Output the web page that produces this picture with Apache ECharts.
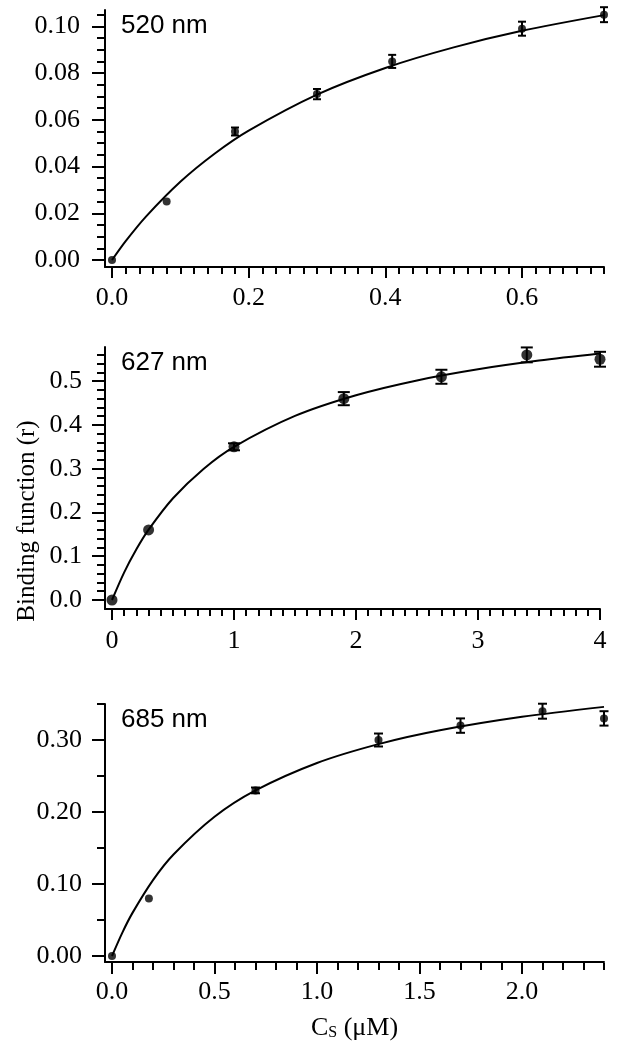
<!DOCTYPE html>
<html>
<head>
<meta charset="utf-8">
<script src="https://cdn.jsdelivr.net/npm/echarts@6/dist/echarts.min.js"></script>
<style>
    html, body { margin: 0; padding: 0; background: #fff; }
    #chart { width: 632px; height: 1050px; }
</style>
</head>
<body>
<div id="chart"></div>
<script>
// 520 nm
var cs520 = [0, 0.08, 0.18, 0.30, 0.41, 0.60, 0.72];
var r520 = [0, 0.025, 0.055, 0.071, 0.085, 0.099, 0.105];
var err520 = [0, 0, 0.0017, 0.0022, 0.0028, 0.003, 0.0032];
var fitCs520 = [0, 0.02, 0.05, 0.1, 0.15, 0.2, 0.3, 0.4, 0.5, 0.6, 0.72];
var fitR520 = [0, 0.0081, 0.0187, 0.0335, 0.0455, 0.0554, 0.0708, 0.0822, 0.0910, 0.0981, 0.1048];

// 627 nm
var cs627 = [0, 0.3, 1.0, 1.9, 2.7, 3.4, 4.0];
var r627 = [0, 0.16, 0.35, 0.46, 0.51, 0.56, 0.55];
var err627 = [0, 0, 0.008, 0.015, 0.016, 0.017, 0.017];
var fitCs627 = [0, 0.1, 0.2, 0.3, 0.5, 0.75, 1.0, 1.5, 2.0, 2.5, 3.0, 3.5, 4.0];
var fitR627 = [0, 0.0632, 0.1159, 0.1607, 0.2325, 0.2995, 0.35, 0.4206, 0.4679, 0.5017, 0.5271, 0.5469, 0.563];

// 685 nm
var cs685 = [0, 0.18, 0.7, 1.3, 1.7, 2.1, 2.4];
var r685 = [0, 0.08, 0.23, 0.30, 0.32, 0.34, 0.33];
var err685 = [0, 0, 0.004, 0.009, 0.01, 0.0104, 0.01];
var fitCs685 = [0, 0.05, 0.1, 0.2, 0.3, 0.5, 0.7, 1.0, 1.3, 1.6, 2.0, 2.4];
var fitR685 = [0, 0.0322, 0.0599, 0.1054, 0.141, 0.1934, 0.23, 0.2681, 0.2943, 0.3135, 0.3322, 0.346];

// tick labels
var xTicks520 = [0, 0.2, 0.4, 0.6];
var yTicks520 = [0, 0.02, 0.04, 0.06, 0.08, 0.10];
var xTicks627 = [0, 1, 2, 3, 4];
var yTicks627 = [0, 0.1, 0.2, 0.3, 0.4, 0.5];
var xTicks685 = [0, 0.5, 1.0, 1.5, 2.0];
var yTicks685 = [0, 0.10, 0.20, 0.30];

var SERIF = '"Liberation Serif", "Times New Roman", serif';
var SANS = '"Liberation Sans", Arial, sans-serif';

var panels = [
    {
        name: '520 nm', cs: cs520, r: r520, err: err520, fitCs: fitCs520, fitR: fitR520,
        xTicks: xTicks520, yTicks: yTicks520, xDec: 1, yDec: 2, xMinor: 0.02, yMinor: 0.005,
        xMax: 0.72, yMax: 0.107, top: 10, height: 250, right: 28, xOff: 7, yOff: 7,
        xMargin: 18, yMargin: 25, dot: 8, cap: 4
    },
    {
        name: '627 nm', cs: cs627, r: r627, err: err627, fitCs: fitCs627, fitR: fitR627,
        xTicks: xTicks627, yTicks: yTicks627, xDec: 0, yDec: 1, xMinor: 0.1, yMinor: 0.02,
        xMax: 4, yMax: 0.578, top: 347, height: 253, right: 32, xOff: 9, yOff: 7,
        xMargin: 19, yMargin: 23, dot: 11, cap: 6
    },
    {
        name: '685 nm', cs: cs685, r: r685, err: err685, fitCs: fitCs685, fitR: fitR685,
        xTicks: xTicks685, yTicks: yTicks685, xDec: 1, yDec: 2, xMinor: 0.1, yMinor: 0.05,
        xMax: 2.4, yMax: 0.35, top: 704, height: 252, right: 28, xOff: 7, yOff: 7,
        xMargin: 16, yMargin: 23, dot: 8, cap: 4.5
    }
];

var grids = [], xAxes = [], yAxes = [], series = [], graphics = [];

function steps(max, step) {
    var out = [];
    for (var i = 0; i * step <= max + 1e-9; i++) out.push(+(i * step).toFixed(6));
    return out;
}

function pairs(xs, ys) {
    return xs.map(function (x, i) { return [x, ys[i]]; });
}

panels.forEach(function (p, i) {
    var frameLeft = 105, dataLeft = 112;

    // 坐标框(只画轴线)
    grids.push({ left: frameLeft, right: p.right, top: p.top, height: p.height + p.xOff });
    // 数据区
    grids.push({ left: dataLeft, right: p.right, top: p.top, height: p.height });

    var frameAxis = {
        type: 'value', min: 0, max: 1,
        axisLine: { show: true, onZero: false, lineStyle: { color: '#000', width: 2 } },
        axisTick: { show: false }, axisLabel: { show: false }, splitLine: { show: false }
    };
    var fx = Object.assign({ gridIndex: 2 * i, position: 'bottom' }, frameAxis);
    var fy = Object.assign({ gridIndex: 2 * i, position: 'left' }, frameAxis);
    if (i === 2) {
        fx.name = '{c|C}{s|S}{c| (μM)}';
        fx.nameLocation = 'middle';
        fx.nameGap = 53;
        fx.nameTextStyle = {
            rich: {
                c: { fontFamily: SERIF, fontSize: 26, color: '#000', lineHeight: 26, verticalAlign: 'top', padding: [0, 0, 8, 0] },
                s: { fontFamily: SERIF, fontSize: 16, color: '#000', lineHeight: 20, verticalAlign: 'bottom' }
            }
        };
    }
    xAxes.push(fx);
    yAxes.push(fy);

    // 主刻度 + 标签
    xAxes.push({
        type: 'value', gridIndex: 2 * i + 1, position: 'bottom', offset: p.xOff,
        min: 0, max: p.xMax,
        axisLine: { show: false, onZero: false },
        axisTick: { show: true, length: 11, customValues: p.xTicks, lineStyle: { color: '#000', width: 2 } },
        axisLabel: {
            show: true, customValues: p.xTicks, margin: p.xMargin,
            fontFamily: SERIF, fontSize: 26, color: '#000',
            formatter: function (v) { return v.toFixed(p.xDec); }
        },
        splitLine: { show: false }
    });
    yAxes.push({
        type: 'value', gridIndex: 2 * i + 1, position: 'left', offset: p.yOff,
        min: 0, max: p.yMax,
        axisLine: { show: false, onZero: false },
        axisTick: { show: true, length: 13, customValues: p.yTicks, lineStyle: { color: '#000', width: 2 } },
        axisLabel: {
            show: true, customValues: p.yTicks, margin: p.yMargin,
            fontFamily: SERIF, fontSize: 26, color: '#000',
            formatter: function (v) { return v.toFixed(p.yDec); }
        },
        splitLine: { show: false }
    });

    // 次刻度
    xAxes.push({
        type: 'value', gridIndex: 2 * i + 1, position: 'bottom', offset: p.xOff,
        min: 0, max: p.xMax,
        axisLine: { show: false, onZero: false },
        axisTick: { show: true, length: 7, customValues: steps(p.xMax, p.xMinor), lineStyle: { color: '#000', width: 2 } },
        axisLabel: { show: false }, splitLine: { show: false }
    });
    yAxes.push({
        type: 'value', gridIndex: 2 * i + 1, position: 'left', offset: p.yOff,
        min: 0, max: p.yMax,
        axisLine: { show: false, onZero: false },
        axisTick: { show: true, length: 8, customValues: steps(p.yMax, p.yMinor), lineStyle: { color: '#000', width: 2 } },
        axisLabel: { show: false }, splitLine: { show: false }
    });

    var ax = 3 * i + 1;

    // 拟合曲线
    series.push({
        type: 'line', xAxisIndex: ax, yAxisIndex: ax,
        data: pairs(p.fitCs, p.fitR), smooth: 0.3, showSymbol: false, clip: false,
        lineStyle: { color: '#000', width: 2 }, silent: true, z: 2
    });

    // 误差棒
    series.push({
        type: 'custom', xAxisIndex: ax, yAxisIndex: ax, clip: false, z: 3,
        data: p.cs.map(function (x, k) { return [x, p.r[k], p.err[k]]; }),
        renderItem: function (params, api) {
            var x = api.value(0), y = api.value(1), e = api.value(2);
            if (!e) return null;
            var hi = api.coord([x, y + e]);
            var lo = api.coord([x, y - e]);
            var st = { stroke: '#000', lineWidth: 2 };
            return {
                type: 'group',
                children: [
                    { type: 'line', shape: { x1: hi[0], y1: hi[1], x2: lo[0], y2: lo[1] }, style: st },
                    { type: 'line', shape: { x1: hi[0] - p.cap, y1: hi[1], x2: hi[0] + p.cap, y2: hi[1] }, style: st },
                    { type: 'line', shape: { x1: lo[0] - p.cap, y1: lo[1], x2: lo[0] + p.cap, y2: lo[1] }, style: st }
                ]
            };
        }
    });

    // 数据点
    series.push({
        type: 'scatter', xAxisIndex: ax, yAxisIndex: ax, clip: false, z: 4,
        data: pairs(p.cs, p.r), symbol: 'circle', symbolSize: p.dot,
        itemStyle: { color: '#000' }
    });

    graphics.push({
        type: 'text', x: 121, y: p.top + 16,
        style: { text: p.name, font: '26px ' + SANS, fill: '#000', textVerticalAlign: 'middle' }
    });
});

graphics.push({
    type: 'text', x: 27, y: 521, rotation: Math.PI / 2,
    style: {
        text: 'Binding function (r)', font: '25px ' + SERIF, fill: '#000',
        textAlign: 'center', textVerticalAlign: 'middle'
    }
});

var myChart = echarts.init(document.getElementById('chart'), null, { renderer: 'canvas' });
myChart.setOption({
    animation: false,
    backgroundColor: '#fff',
    grid: grids,
    xAxis: xAxes,
    yAxis: yAxes,
    series: series,
    graphic: graphics
});
</script>
</body>
</html>
